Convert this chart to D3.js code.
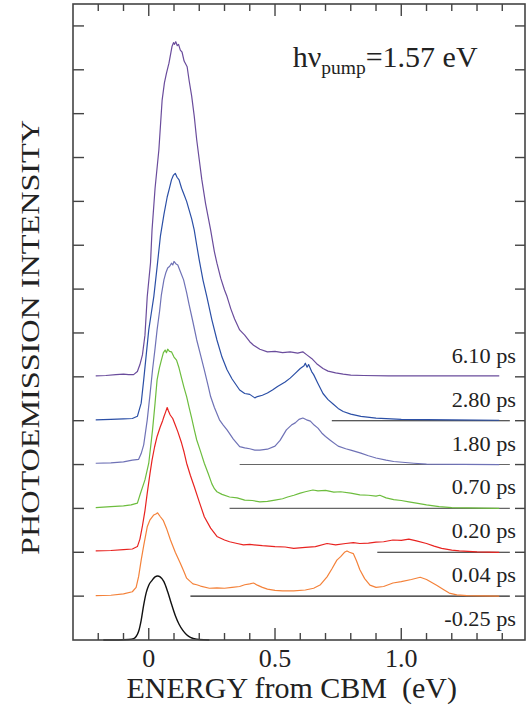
<!DOCTYPE html>
<html><head><meta charset="utf-8">
<script src="https://cdn.jsdelivr.net/npm/d3@7"></script>
<style>body{margin:0;background:#fff}svg{display:block}text{font-family:"Liberation Serif","DejaVu Serif",serif;fill:#222}</style>
</head><body>
<svg id="c" width="527" height="711"></svg>
<script>
// ---- data ----
const delays = ["6.10 ps","2.80 ps","1.80 ps","0.70 ps","0.20 ps","0.04 ps","-0.25 ps"];
const offsets = [6,5,4,3,2,1,0];
const colors = ["#6a4c9c","#2b4fa6","#6f72b6","#6dbd3e","#e82320","#f4823a","#111111"];
// start energy of the thin zero line drawn under each spectrum (null = none)
const zeroLineStart = [null,0.725,0.36,0.32,0.905,0.165,null];

const s610 = [[-0.21,0.02],[-0.17,0.03],[-0.13,0.05],[-0.1,0.06],[-0.08,0.05],[-0.06,0.05],[-0.045,0.12],[-0.035,0.28],[-0.025,0.5],[-0.015,0.95],[-0.006,1.83],[0.007,2.6],[0.013,3.35],[0.025,4.3],[0.04,5.17],[0.053,6.31],[0.062,6.7],[0.07,6.92],[0.08,7.15],[0.092,7.53],[0.098,7.62],[0.102,7.58],[0.107,7.64],[0.113,7.55],[0.118,7.58],[0.125,7.45],[0.132,7.4],[0.14,7.2],[0.152,7.07],[0.16,6.75],[0.17,6.4],[0.18,5.95],[0.19,5.4],[0.2,4.95],[0.21,4.5],[0.225,3.95],[0.245,3.35],[0.26,2.85],[0.27,2.59],[0.285,2.25],[0.3,1.98],[0.31,1.83],[0.325,1.55],[0.34,1.32],[0.36,1.07],[0.38,0.95],[0.4,0.8],[0.415,0.72],[0.44,0.63],[0.47,0.57],[0.5,0.58],[0.53,0.55],[0.56,0.57],[0.59,0.54],[0.61,0.57],[0.626,0.5],[0.645,0.42],[0.665,0.3],[0.69,0.19],[0.71,0.13],[0.74,0.09],[0.77,0.06],[0.8,0.04],[0.85,0.03],[0.95,0.02],[1.1,0.02],[1.25,0.02],[1.388,0.02]];
const s280 = [[-0.21,0.02],[-0.15,0.03],[-0.1,0.04],[-0.065,0.05],[-0.045,0.1],[-0.03,0.4],[-0.02,0.93],[-0.01,1.5],[0,2.07],[0.01,2.45],[0.02,2.83],[0.033,3.5],[0.046,4.2],[0.06,4.7],[0.073,5.1],[0.082,5.3],[0.09,5.49],[0.098,5.6],[0.105,5.64],[0.112,5.55],[0.12,5.49],[0.13,5.3],[0.14,5.15],[0.15,5.0],[0.16,4.8],[0.17,4.6],[0.18,4.35],[0.19,4.0],[0.2,3.66],[0.215,3.2],[0.23,2.83],[0.25,2.3],[0.27,1.84],[0.29,1.45],[0.31,1.16],[0.33,0.95],[0.36,0.7],[0.38,0.62],[0.4,0.6],[0.42,0.52],[0.43,0.55],[0.45,0.58],[0.47,0.63],[0.49,0.7],[0.51,0.78],[0.54,0.88],[0.56,0.97],[0.58,1.08],[0.6,1.19],[0.615,1.25],[0.62,1.31],[0.627,1.22],[0.633,1.28],[0.645,1.12],[0.653,1.05],[0.67,0.85],[0.69,0.62],[0.71,0.48],[0.73,0.38],[0.75,0.28],[0.77,0.21],[0.8,0.15],[0.84,0.1],[0.9,0.06],[1.0,0.03],[1.2,0.02],[1.388,0.01]];
const s180 = [[-0.21,0.03],[-0.15,0.04],[-0.1,0.06],[-0.065,0.1],[-0.04,0.12],[-0.03,0.25],[-0.02,0.45],[-0.006,1.02],[0.005,1.6],[0.015,2.16],[0.025,2.65],[0.033,3.07],[0.043,3.5],[0.05,3.87],[0.06,4.21],[0.068,4.38],[0.075,4.48],[0.083,4.52],[0.09,4.59],[0.095,4.55],[0.1,4.63],[0.107,4.58],[0.115,4.55],[0.125,4.4],[0.138,4.21],[0.15,3.92],[0.16,3.64],[0.175,3.25],[0.19,2.84],[0.205,2.5],[0.22,2.16],[0.235,1.8],[0.245,1.55],[0.26,1.3],[0.28,1.02],[0.295,0.9],[0.31,0.79],[0.335,0.58],[0.36,0.41],[0.38,0.38],[0.4,0.36],[0.42,0.33],[0.44,0.33],[0.47,0.35],[0.5,0.42],[0.52,0.55],[0.545,0.79],[0.565,0.9],[0.58,0.95],[0.595,1.03],[0.61,1.06],[0.625,1.02],[0.64,0.99],[0.655,0.9],[0.67,0.83],[0.685,0.72],[0.7,0.64],[0.72,0.55],[0.75,0.42],[0.78,0.36],[0.8,0.33],[0.84,0.26],[0.87,0.2],[0.9,0.15],[0.94,0.1],[0.97,0.07],[1.05,0.03],[1.1,0.01],[1.388,0.0]];
const s070 = [[-0.21,0.02],[-0.15,0.04],[-0.1,0.06],[-0.07,0.08],[-0.045,0.12],[-0.033,0.34],[-0.015,0.65],[0,1.03],[0.015,1.79],[0.025,2.4],[0.033,2.93],[0.042,3.2],[0.05,3.38],[0.058,3.55],[0.065,3.61],[0.07,3.55],[0.075,3.63],[0.082,3.58],[0.09,3.57],[0.1,3.45],[0.11,3.38],[0.12,3.2],[0.13,2.97],[0.14,2.75],[0.15,2.55],[0.16,2.3],[0.17,2.06],[0.18,1.8],[0.19,1.56],[0.205,1.3],[0.22,1.03],[0.235,0.8],[0.25,0.56],[0.26,0.45],[0.27,0.38],[0.29,0.32],[0.32,0.26],[0.35,0.24],[0.38,0.19],[0.41,0.18],[0.44,0.15],[0.47,0.16],[0.5,0.19],[0.53,0.22],[0.55,0.26],[0.575,0.3],[0.6,0.35],[0.62,0.38],[0.65,0.42],[0.67,0.4],[0.7,0.41],[0.733,0.37],[0.76,0.38],[0.8,0.35],[0.836,0.31],[0.87,0.3],[0.9,0.28],[0.915,0.3],[0.94,0.24],[0.97,0.2],[1.0,0.18],[1.03,0.15],[1.06,0.12],[1.1,0.08],[1.15,0.04],[1.2,0.02],[1.388,0.0]];
const s020 = [[-0.21,0.03],[-0.15,0.04],[-0.1,0.06],[-0.065,0.075],[-0.045,0.13],[-0.035,0.3],[-0.025,0.6],[-0.015,0.95],[-0.006,1.35],[0.005,1.8],[0.013,2.1],[0.023,2.4],[0.033,2.64],[0.045,2.85],[0.055,3.0],[0.06,3.09],[0.067,3.2],[0.073,3.3],[0.078,3.22],[0.085,3.13],[0.095,3.05],[0.105,2.9],[0.115,2.75],[0.13,2.49],[0.14,2.28],[0.15,2.03],[0.165,1.75],[0.18,1.5],[0.2,1.15],[0.22,0.81],[0.245,0.55],[0.27,0.36],[0.3,0.28],[0.32,0.24],[0.35,0.2],[0.375,0.17],[0.4,0.18],[0.45,0.15],[0.5,0.13],[0.54,0.12],[0.574,0.09],[0.62,0.11],[0.66,0.13],[0.706,0.2],[0.74,0.17],[0.78,0.2],[0.81,0.22],[0.836,0.2],[0.87,0.21],[0.9,0.23],[0.93,0.24],[0.967,0.28],[1.0,0.27],[1.03,0.3],[1.06,0.26],[1.1,0.2],[1.13,0.14],[1.16,0.09],[1.2,0.05],[1.23,0.03],[1.3,0.01],[1.388,0.0]];
const s004 = [[-0.21,0.01],[-0.15,0.02],[-0.1,0.05],[-0.065,0.1],[-0.05,0.2],[-0.04,0.45],[-0.03,0.82],[-0.02,1.15],[-0.006,1.58],[0.005,1.74],[0.02,1.85],[0.03,1.88],[0.035,1.9],[0.046,1.81],[0.058,1.72],[0.07,1.55],[0.086,1.28],[0.105,1.0],[0.125,0.75],[0.14,0.55],[0.15,0.41],[0.165,0.33],[0.175,0.28],[0.19,0.26],[0.205,0.23],[0.24,0.18],[0.27,0.19],[0.3,0.18],[0.33,0.2],[0.36,0.22],[0.38,0.26],[0.4,0.28],[0.415,0.3],[0.43,0.25],[0.45,0.2],[0.47,0.16],[0.5,0.13],[0.53,0.12],[0.574,0.12],[0.62,0.14],[0.653,0.18],[0.68,0.26],[0.706,0.44],[0.725,0.62],[0.745,0.82],[0.76,0.9],[0.775,1.0],[0.785,1.03],[0.795,1.0],[0.81,0.97],[0.823,0.8],[0.836,0.6],[0.855,0.4],[0.876,0.25],[0.9,0.2],[0.93,0.22],[0.967,0.3],[1.0,0.33],[1.04,0.38],[1.075,0.43],[1.1,0.38],[1.14,0.25],[1.17,0.14],[1.19,0.07],[1.22,0.03],[1.26,0.01],[1.388,0.0]];
const sm025 = [[-0.18,0],[-0.12,0],[-0.08,0.01],[-0.06,0.03],[-0.05,0.08],[-0.04,0.2],[-0.03,0.45],[-0.02,0.8],[-0.01,1.08],[0,1.25],[0.013,1.36],[0.025,1.44],[0.035,1.46],[0.045,1.44],[0.06,1.33],[0.075,1.1],[0.09,0.82],[0.105,0.56],[0.12,0.36],[0.135,0.22],[0.15,0.12],[0.165,0.06],[0.18,0.03],[0.2,0.01],[0.24,0]];
const spectra = [s610,s280,s180,s070,s020,s004,sm025];

const xTicksMajor = [0,0.5,1.0];
const xTickLabels = ["0","0.5","1.0"];
const xTicksMinor = [-0.2,-0.1,0.1,0.2,0.3,0.4,0.6,0.7,0.8,0.9,1.1,1.2,1.3,1.4];
const yTicks = [1,2,3,4,5,6,7,8,9,10,11,12,13,14];

// ---- layout ----
const L=73, R=525, T=4, B=640;
const x = d3.scaleLinear().domain([-0.3,1.49]).range([L,R]);
const y = d3.scaleLinear().domain([0,14.5]).range([B,T]);
const svg = d3.select("#c");

function stretch(sel, f){ sel.each(function(){ const w=this.getComputedTextLength(); d3.select(this).attr("textLength", w*f).attr("lengthAdjust","spacingAndGlyphs"); }); }

// zero lines
const zl = svg.append("g");
zeroLineStart.forEach((s,i)=>{ if(s===null) return;
  zl.append("line").attr("x1",x(s)).attr("x2",x(1.43)).attr("y1",y(offsets[i])).attr("y2",y(offsets[i]))
    .attr("stroke", (i===2||i===3)?"#666":"#222").attr("stroke-width",1.1);
});

// spectra
spectra.forEach((s,i)=>{
  const ln = d3.line().x(d=>x(d[0])).y(d=>y(d[1]+offsets[i])).curve(i===6?d3.curveMonotoneX:d3.curveLinear);
  svg.append("path").attr("d",ln(s)).attr("fill","none").attr("stroke",colors[i]).attr("stroke-width",i===6?1.4:1.2).attr("stroke-linejoin","round");
});

// frame
svg.append("rect").attr("x",L).attr("y",T).attr("width",R-L).attr("height",B-T).attr("fill","none").attr("stroke","#444").attr("stroke-width",1.6);

// ticks
const tg = svg.append("g").attr("stroke","#444").attr("stroke-width",1.4);
yTicks.forEach(v=>{
  tg.append("line").attr("x1",L).attr("x2",L+11).attr("y1",y(v)).attr("y2",y(v));
  tg.append("line").attr("x1",R-10).attr("x2",R).attr("y1",y(v)).attr("y2",y(v));
});
xTicksMinor.forEach(v=>{
  tg.append("line").attr("x1",x(v)).attr("x2",x(v)).attr("y1",B).attr("y2",B-7);
  tg.append("line").attr("x1",x(v)).attr("x2",x(v)).attr("y1",T).attr("y2",T+7);
});
xTicksMajor.forEach(v=>{
  tg.append("line").attr("x1",x(v)).attr("x2",x(v)).attr("y1",B).attr("y2",B-12);
  tg.append("line").attr("x1",x(v)).attr("x2",x(v)).attr("y1",T).attr("y2",T+12);
});

// tick labels
xTicksMajor.forEach((v,i)=>{
  svg.append("text").attr("x",x(v)).attr("y",667).attr("text-anchor","middle").attr("font-size",26).text(xTickLabels[i]);
});

// delay labels
delays.forEach((d,i)=>{
  const t = svg.append("text").attr("x",516).attr("y",y(offsets[i])-14).attr("text-anchor","end").attr("font-size",21).text(d);
  stretch(t,1.06);
});

// axis titles
const xl = svg.append("text").attr("x",291.7).attr("y",698).attr("text-anchor","middle").attr("font-size",30).attr("xml:space","preserve").text("ENERGY from CBM  (eV)");
stretch(xl, 1.0);
const yl = svg.append("text").attr("transform","translate(39,337.5) rotate(-90)").attr("text-anchor","middle").attr("font-size",26).text("PHOTOEMISSION INTENSITY");
yl.attr("textLength",435).attr("lengthAdjust","spacingAndGlyphs");

// pump label
const ti = svg.append("text").attr("x",292.7).attr("y",67.3).attr("font-size",30);
ti.append("tspan").text("h\u03bd");
ti.append("tspan").attr("font-size",19.5).attr("dy",6.5).text("pump");
ti.append("tspan").attr("dy",-6.5).text("=1.57 eV");
</script>
</body></html>
